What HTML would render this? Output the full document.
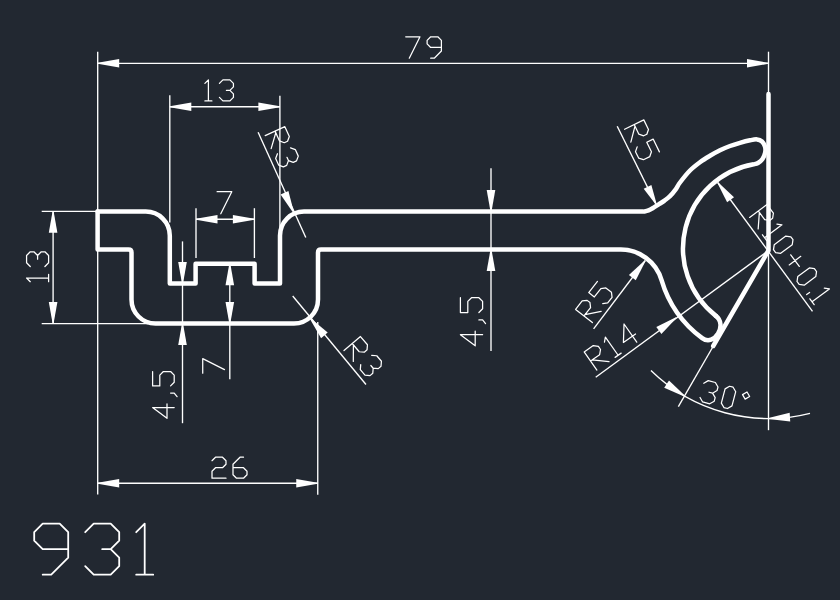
<!DOCTYPE html>
<html><head><meta charset="utf-8"><style>
html,body{margin:0;padding:0;background:#222831;width:840px;height:600px;overflow:hidden}
svg{display:block}
</style></head><body>
<svg width="840" height="600" viewBox="0 0 840 600">
<rect width="840" height="600" fill="#222831"/>
<path d="M97.6,211.6 H145.8 A24,24 0 0 1 169.8,235.6 V283.4 H195.6 V263.7 H254.6 V283.4 H280 V235.6 A24,24 0 0 1 304,211.6 H643.5 C644.33,211.4 646.75,211.1 648.5,210.4 C650.25,209.7 652.25,208.43 654,207.4 C655.75,206.37 657.25,205.33 659,204.2 C660.75,203.07 662.67,201.93 664.5,200.6 C666.33,199.27 668.17,198.03 670,196.2 C671.83,194.37 673.83,191.88 675.5,189.6 C677.17,187.32 677.58,185.68 680,182.5 C682.42,179.32 686.67,173.88 690,170.5 C693.33,167.12 696.67,164.65 700,162.2 C703.33,159.75 706.67,157.78 710,155.8 C713.33,153.82 716.67,151.93 720,150.3 C723.33,148.67 726.67,147.25 730,146 C733.33,144.75 736.67,143.75 740,142.8 C743.33,141.85 747.17,140.87 750,140.3 C752.83,139.73 755,139.2 757,139.4 C759,139.6 760.67,140.32 762,141.5 C763.33,142.68 764.47,144.67 765,146.5 C765.53,148.33 765.62,150.42 765.2,152.5 C764.78,154.58 763.7,157.25 762.5,159 C761.3,160.75 759.47,162.12 758,163 C756.53,163.88 754.38,164.08 753.65,164.3 A85.5,85.5 0 0 0 715.86,315.87" fill="none" stroke="#ffffff" stroke-width="4.5" stroke-linejoin="round" stroke-linecap="round"/>
<path d="M97.6,211.6 V249.6 H128.5 Q131.5,249.6 131.5,252.6 V299.5 A24,24 0 0 0 155.5,323.5 H294 A24,24 0 0 0 318,299.5 V252.6 Q318,249.6 321,249.6 H620 A42.5,42.5 0 0 1 661.56,280.07 A111.5,111.5 0 0 0 702.18,338.13 C714.16,347.16 727.84,324.9 715.86,315.87" fill="none" stroke="#ffffff" stroke-width="4.5" stroke-linejoin="round" stroke-linecap="round"/>
<path d="M768.5,94 V250.5 L713.2,346" fill="none" stroke="#ffffff" stroke-width="4.5" stroke-linejoin="round" stroke-linecap="round"/>
<line x1="97.7" y1="51.7" x2="97.7" y2="494.5" stroke="#ffffff" stroke-width="1.35"/>
<line x1="768.5" y1="51.7" x2="768.5" y2="94" stroke="#ffffff" stroke-width="1.35"/>
<line x1="97.7" y1="63.3" x2="768.5" y2="63.3" stroke="#ffffff" stroke-width="1.35"/>
<polygon points="97.7,62.8 119.2,59 119.2,67.6 97.7,63.8" fill="#ffffff"/>
<polygon points="768.5,63.8 747,67.6 747,59 768.5,62.8" fill="#ffffff"/>
<path d="M405.7 36.78 L419.98 36.78 L409.27 58.2 M430.69 58.2 L434.26 58.2 L441.4 51.06 L441.4 40.35 L437.83 36.78 L430.69 36.78 L427.12 40.35 L427.12 43.92 L430.69 47.49 L441.4 47.49" fill="none" stroke="#ffffff" stroke-width="1.25" stroke-linejoin="round" stroke-linecap="round"/>
<line x1="169.8" y1="95.3" x2="169.8" y2="222.5" stroke="#ffffff" stroke-width="1.35"/>
<line x1="279.9" y1="95.7" x2="279.9" y2="232" stroke="#ffffff" stroke-width="1.35"/>
<line x1="169.8" y1="106.7" x2="279.9" y2="106.7" stroke="#ffffff" stroke-width="1.35"/>
<polygon points="169.8,106.2 191.3,102.4 191.3,111 169.8,107.2" fill="#ffffff"/>
<polygon points="279.9,107.2 258.4,111 258.4,102.4 279.9,106.2" fill="#ffffff"/>
<path d="M204.9 83.4 L208.4 79.9 L208.4 100.9 M204.9 100.9 L211.9 100.9 M219.43 83.4 L222.93 79.9 L229.93 79.9 L233.43 83.4 L233.43 86.9 L229.93 90.4 L226.43 90.4 M229.93 90.4 L233.43 93.9 L233.43 97.4 L229.93 100.9 L222.93 100.9 L219.43 97.4" fill="none" stroke="#ffffff" stroke-width="1.25" stroke-linejoin="round" stroke-linecap="round"/>
<line x1="196" y1="208.2" x2="196" y2="258" stroke="#ffffff" stroke-width="1.35"/>
<line x1="254.4" y1="208.2" x2="254.4" y2="258" stroke="#ffffff" stroke-width="1.35"/>
<line x1="196" y1="219.2" x2="254.4" y2="219.2" stroke="#ffffff" stroke-width="1.35"/>
<polygon points="196,218.7 217.5,214.9 217.5,223.5 196,219.7" fill="#ffffff"/>
<polygon points="254.4,219.7 232.9,223.5 232.9,214.9 254.4,218.7" fill="#ffffff"/>
<path d="M217.1 191.73 L231.78 191.73 L220.77 213.75" fill="none" stroke="#ffffff" stroke-width="1.25" stroke-linejoin="round" stroke-linecap="round"/>
<line x1="41.7" y1="211.3" x2="97.7" y2="211.3" stroke="#ffffff" stroke-width="1.35"/>
<line x1="41.7" y1="323.6" x2="148" y2="323.6" stroke="#ffffff" stroke-width="1.35"/>
<line x1="53.1" y1="211.3" x2="53.1" y2="323.6" stroke="#ffffff" stroke-width="1.35"/>
<polygon points="53.6,211.3 57.4,232.8 48.8,232.8 52.6,211.3" fill="#ffffff"/>
<polygon points="52.6,323.6 48.8,302.1 57.4,302.1 53.6,323.6" fill="#ffffff"/>
<path d="M30.25 281.7 L26.58 278.03 L48.6 278.03 M48.6 281.7 L48.6 274.36 M30.25 266.47 L26.58 262.8 L26.58 255.46 L30.25 251.79 L33.92 251.79 L37.59 255.46 L37.59 259.13 M37.59 255.46 L41.26 251.79 L44.93 251.79 L48.6 255.46 L48.6 262.8 L44.93 266.47" fill="none" stroke="#ffffff" stroke-width="1.25" stroke-linejoin="round" stroke-linecap="round"/>
<line x1="182.5" y1="241.4" x2="182.5" y2="423.2" stroke="#ffffff" stroke-width="1.35"/>
<polygon points="182,283.4 178.2,261.9 186.8,261.9 183,283.4" fill="#ffffff"/>
<polygon points="183,323.5 186.8,345 178.2,345 182,323.5" fill="#ffffff"/>
<path d="M174.2 407.5 L152.6 407.5 L167 418.3 L167 403.9 M170.6 393.1 L174.2 393.1 L177.08 396.7 M152.6 371.5 L152.6 385.9 L159.8 385.9 L159.8 375.1 L163.4 371.5 L170.6 371.5 L174.2 375.1 L174.2 382.3 L170.6 385.9" fill="none" stroke="#ffffff" stroke-width="1.25" stroke-linejoin="round" stroke-linecap="round"/>
<line x1="229.8" y1="263.7" x2="229.8" y2="379.3" stroke="#ffffff" stroke-width="1.35"/>
<polygon points="230.3,263.7 234.1,285.2 225.5,285.2 229.3,263.7" fill="#ffffff"/>
<polygon points="229.3,323.5 225.5,302 234.1,302 230.3,323.5" fill="#ffffff"/>
<path d="M202.72 373.2 L202.72 358.68 L224.5 369.57" fill="none" stroke="#ffffff" stroke-width="1.25" stroke-linejoin="round" stroke-linecap="round"/>
<line x1="317.75" y1="322" x2="317.75" y2="494.75" stroke="#ffffff" stroke-width="1.35"/>
<line x1="97.7" y1="483.25" x2="317.75" y2="483.25" stroke="#ffffff" stroke-width="1.35"/>
<polygon points="97.7,482.75 119.2,478.95 119.2,487.55 97.7,483.75" fill="#ffffff"/>
<polygon points="317.75,483.75 296.25,487.55 296.25,478.95 317.75,482.75" fill="#ffffff"/>
<path d="M212 460.7 L215.5 457.2 L222.5 457.2 L226 460.7 L226 464.2 L222.5 467.7 L215.5 467.7 L212 471.2 L212 478.2 L226 478.2 M243.5 457.2 L240 457.2 L233 464.2 L233 474.7 L236.5 478.2 L243.5 478.2 L247 474.7 L247 471.2 L243.5 467.7 L233 467.7" fill="none" stroke="#ffffff" stroke-width="1.25" stroke-linejoin="round" stroke-linecap="round"/>
<line x1="258.1" y1="132.3" x2="305.8" y2="237.5" stroke="#ffffff" stroke-width="1.35"/>
<polygon points="292.97,212.6 280.6,194.62 288.42,191.05 293.88,212.19" fill="#ffffff"/>
<path d="M265.2 135.6 L284.86 126.64 L289.33 136.47 L287.55 141.24 L284.28 142.73 L279.51 140.95 L275.03 131.12 M275.77 132.76 L271.17 148.7 M290.54 147.79 L295.31 149.57 L298.29 156.13 L296.51 160.89 L293.23 162.39 L288.46 160.6 L286.97 157.33 M288.46 160.6 L286.68 165.37 L283.4 166.87 L278.64 165.08 L275.65 158.53 L277.43 153.76" fill="none" stroke="#ffffff" stroke-width="1.25" stroke-linejoin="round" stroke-linecap="round"/>
<line x1="292.7" y1="296" x2="366" y2="384.5" stroke="#ffffff" stroke-width="1.35"/>
<polygon points="310.87,318.62 327.68,332.56 321.12,338.13 310.11,319.27" fill="#ffffff"/>
<path d="M344 350.5 L360.47 336.53 L367.46 344.77 L367.04 349.84 L364.3 352.17 L359.22 351.75 L352.24 343.51 M353.4 344.89 L353.31 361.48 M371.7 355.33 L376.77 355.75 L381.43 361.24 L381.01 366.31 L378.27 368.64 L373.19 368.23 L370.86 365.48 M373.19 368.23 L372.78 373.3 L370.03 375.63 L364.96 375.21 L360.3 369.72 L360.72 364.65" fill="none" stroke="#ffffff" stroke-width="1.25" stroke-linejoin="round" stroke-linecap="round"/>
<line x1="491" y1="168.3" x2="491" y2="351" stroke="#ffffff" stroke-width="1.35"/>
<polygon points="490.5,211.5 486.7,190 495.3,190 491.5,211.5" fill="#ffffff"/>
<polygon points="491.5,249.6 495.3,271.1 486.7,271.1 490.5,249.6" fill="#ffffff"/>
<path d="M482.6 334.7 L460.4 334.7 L475.2 345.8 L475.2 331 M478.9 319.9 L482.6 319.9 L485.56 323.6 M460.4 297.7 L460.4 312.5 L467.8 312.5 L467.8 301.4 L471.5 297.7 L478.9 297.7 L482.6 301.4 L482.6 308.8 L478.9 312.5" fill="none" stroke="#ffffff" stroke-width="1.25" stroke-linejoin="round" stroke-linecap="round"/>
<line x1="617.2" y1="126.3" x2="655.7" y2="203.6" stroke="#ffffff" stroke-width="1.35"/>
<polygon points="655.75,204.52 643.66,188.76 651.36,184.93 656.65,204.08" fill="#ffffff"/>
<path d="M624.6 129.25 L643.8 119.89 L648.48 129.49 L646.84 134.25 L643.64 135.81 L638.88 134.17 L634.2 124.57 M634.98 126.17 L630.84 142.05 M659.4 151.88 L653.16 139.08 L646.76 142.21 L651.44 151.8 L649.81 156.57 L643.41 159.69 L638.65 158.05 L635.52 151.65 L637.16 146.89" fill="none" stroke="#ffffff" stroke-width="1.25" stroke-linejoin="round" stroke-linecap="round"/>
<line x1="717.7" y1="182.5" x2="812.5" y2="311.3" stroke="#ffffff" stroke-width="1.35"/>
<polygon points="718.1,182.2 734.01,197.15 727.12,202.3 717.3,182.8" fill="#ffffff"/>
<path d="M749.6 217.4 L766.96 204.55 L773.39 213.23 L772.63 218.27 L769.74 220.41 L764.71 219.66 L758.28 210.98 M759.35 212.42 L758.17 228.98 M776.92 224.06 L781.95 224.81 L764.59 237.66 M762.45 234.76 L766.73 240.55 M773.48 249.67 L775.62 252.56 L780.65 253.31 L792.23 244.75 L792.98 239.71 L790.84 236.82 L785.8 236.07 L774.23 244.63 L773.48 249.67 M790.72 254.82 L799.29 266.39 M789.22 264.89 L800.79 256.32 M797.03 281.5 L799.17 284.39 L804.21 285.15 L815.78 276.58 L816.54 271.55 L814.39 268.65 L809.36 267.9 L797.78 276.46 L797.03 281.5 M806.67 294.52 L809.56 292.38 M824.35 288.16 L829.38 288.91 L812.02 301.76 M809.88 298.86 L814.16 304.65" fill="none" stroke="#ffffff" stroke-width="1.25" stroke-linejoin="round" stroke-linecap="round"/>
<line x1="593.6" y1="328.9" x2="645.3" y2="260.5" stroke="#ffffff" stroke-width="1.35"/>
<polygon points="645.7,260.8 635.77,280.24 628.91,275.06 644.9,260.2" fill="#ffffff"/>
<path d="M592.4 322.5 L575.62 309.39 L582.17 300.99 L587.16 300.38 L589.95 302.57 L590.56 307.55 L584.01 315.94 M585.1 314.54 L601.14 311.31 M597.47 281.41 L588.73 292.6 L594.32 296.97 L600.88 288.58 L605.86 287.97 L611.46 292.34 L612.07 297.32 L607.7 302.92 L602.72 303.53" fill="none" stroke="#ffffff" stroke-width="1.25" stroke-linejoin="round" stroke-linecap="round"/>
<line x1="595.7" y1="377.2" x2="768.5" y2="250.5" stroke="#ffffff" stroke-width="1.35"/>
<polygon points="676.5,318.1 661.4,333.88 656.32,326.95 675.9,317.3" fill="#ffffff"/>
<path d="M596.9 370.1 L584.17 351.91 L593.26 345.55 L598.41 346.46 L600.53 349.49 L599.63 354.64 L590.53 361.01 M592.05 359.95 L609.02 361.61 M604.47 342.21 L605.38 337.06 L618.12 355.24 M615.09 357.37 L621.15 353.12 M636.76 342.19 L624.02 324.01 L623.42 342.5 L635.54 334.01" fill="none" stroke="#ffffff" stroke-width="1.25" stroke-linejoin="round" stroke-linecap="round"/>
<line x1="768.5" y1="250.5" x2="768.5" y2="430.2" stroke="#ffffff" stroke-width="1.35"/>
<line x1="713.5" y1="345.76" x2="678.35" y2="406.64" stroke="#ffffff" stroke-width="1.35"/>
<path d="M650.96,370.53 A168.0,168.0 0 0 0 810,413.29" fill="none" stroke="#ffffff" stroke-width="1.35"/>
<polygon points="684.22,396.41 664.22,387.66 668.99,380.5 684.78,395.58" fill="#ffffff"/>
<polygon points="768.47,418 789.68,412.84 790.23,421.42 768.53,419" fill="#ffffff"/>
<path d="M703.79 383.26 L708.27 380.65 L715.37 382.52 L717.98 387.01 L717.04 390.56 L712.56 393.17 L709.01 392.23 M712.56 393.17 L715.17 397.65 L714.23 401.2 L709.74 403.81 L702.65 401.94 L700.04 397.45 M723.94 407.56 L727.49 408.5 L731.97 405.89 L735.72 391.7 L733.11 387.21 L729.56 386.27 L725.08 388.88 L721.33 403.08 L723.94 407.56 M742.54 394.64 L747.02 392.02 L749.63 396.51 L745.15 399.12 L742.54 394.64" fill="none" stroke="#ffffff" stroke-width="1.25" stroke-linejoin="round" stroke-linecap="round"/>
<path d="M42.7 574.7 L51.2 574.7 L68.2 557.7 L68.2 532.2 L59.7 523.7 L42.7 523.7 L34.2 532.2 L34.2 540.7 L42.7 549.2 L68.2 549.2 M85.2 532.2 L93.7 523.7 L110.7 523.7 L119.2 532.2 L119.2 540.7 L110.7 549.2 L102.2 549.2 M110.7 549.2 L119.2 557.7 L119.2 566.2 L110.7 574.7 L93.7 574.7 L85.2 566.2 M136.2 532.2 L144.7 523.7 L144.7 574.7 M136.2 574.7 L153.2 574.7" fill="none" stroke="#ffffff" stroke-width="1.8" stroke-linejoin="round" stroke-linecap="round"/>
</svg>
</body></html>
